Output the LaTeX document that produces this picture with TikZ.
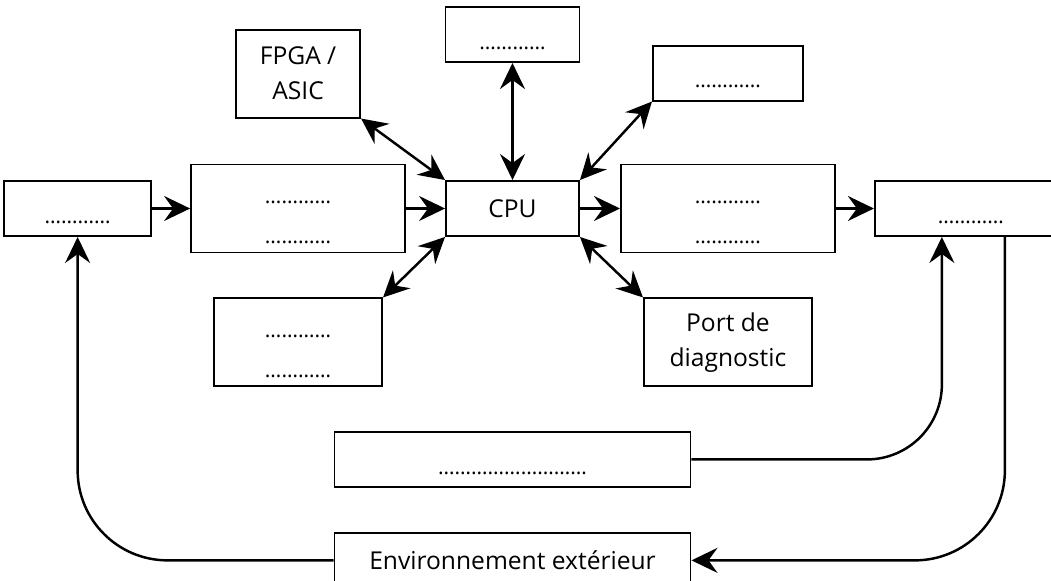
\documentclass[tikz,border=0pt]{standalone}
\usepackage{fontspec}
\setmainfont{Open Sans}
\usetikzlibrary{positioning,arrows.meta}

\newcommand{\pts}{{\fontsize{12}{20}\selectfont\rule{0pt}{17pt}…………}}
\newcommand{\longpts}{{\fontsize{12}{20}\selectfont\rule{0pt}{17pt}………………………}}

\begin{document}
\begin{tikzpicture}[box/.style={draw,line width=1.1pt,minimum height=1.1cm,inner sep=1pt,align=center,font=\fontsize{14}{20}\selectfont},
		tallbox/.style={box,minimum height=1.76cm},
		link/.style={line width=1.4pt},
		>={Stealth[length=5.2mm,width=5mm,inset=1.8mm]}]
		\useasboundingbox (0,0) rectangle (21.02,11.6);

		\node[box,minimum width=2.66cm]								(cpu)	at (10.25,7.43) {CPU};
		\node[tallbox,minimum width=4.28cm,node distance=7.8mm,left=of cpu]	(in2)	{\pts\\[3pt]\pts};
		\node[box,minimum width=2.94cm,node distance=7.6mm,left=of in2]		(in1)	{\pts};
		\node[tallbox,minimum width=4.28cm,node distance=8mm,right=of cpu]	(out2)	{\pts\\[3pt]\pts};
		\node[box,minimum width=3.84cm,node distance=7.6mm,right=of out2]	(out1)	{\pts};
		\node[tallbox,minimum width=2.48cm,node distance=9mm,above=of in2]	(fpga)	{FPGA /\\ASIC};
		\node[tallbox,minimum width=3.36cm,node distance=8.8mm,below=of in2]	(mem)	{\pts\\[3pt]\pts};
		\node[box,minimum width=2.68cm,node distance=23.4mm,above=of cpu]	(top)	{\pts};
		\node[box,minimum width=3cm,node distance=12.4mm,above=of out2]		(com)	{\pts};
		\node[tallbox,minimum width=3.36cm,node distance=8.8mm,below=of out2]	(diag)	{Port de\\diagnostic};
		\node[box,minimum width=7.12cm,node distance=38.8mm,below=of cpu]	(wide)	{\longpts};
		\node[box,minimum width=7.12cm,node distance=8.8mm,below=of wide]	(env)	{Environnement extérieur};

		\draw[link,->] (in1) -- (in2);
		\draw[link,->] (in2) -- (cpu);
		\draw[link,->] (cpu) -- (out2);
		\draw[link,->] (out2) -- (out1);
		\draw[link,<->] (fpga.south east) -- (cpu.north west);
		\draw[link,<->] (top) -- (cpu);
		\draw[link,<->] (com.south west) -- (cpu.north east);
		\draw[link,<->] (cpu.south west) -- (mem.north east);
		\draw[link,<->] (cpu.south east) -- (diag.north west);

		\draw[link,->,rounded corners=1.8cm] (env.west) -| (in1.south);
		\draw[link,->,rounded corners=1.5cm] (wide.east) -| ([xshift=-5.8mm]out1.south);
		\draw[link,->,rounded corners=1.8cm] ([xshift=6.8mm]out1.south) |- (env.east);
	\end{tikzpicture}
\end{document}
